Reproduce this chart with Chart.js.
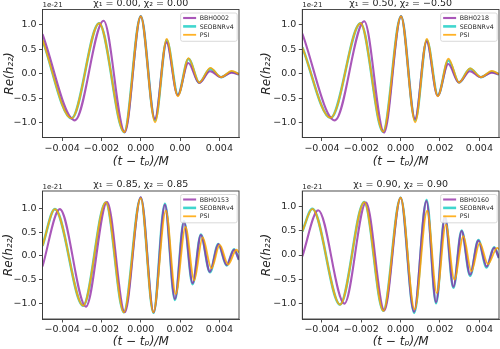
<!DOCTYPE html>
<html><head><meta charset="utf-8">
<script src="https://cdn.jsdelivr.net/npm/chart.js@4.4.1/dist/chart.umd.min.js"></script>
<style>
html,body{margin:0;padding:0;background:#fff;}
body{width:500px;height:349px;overflow:hidden;position:relative;}
canvas{position:absolute;}
</style></head><body>
<canvas id="c0" width="250" height="175" style="left:0;top:0"></canvas>
<canvas id="c1" width="250" height="175" style="left:250px;top:0"></canvas>
<canvas id="c2" width="250" height="175" style="left:0;top:175px"></canvas>
<canvas id="c3" width="250" height="175" style="left:250px;top:175px"></canvas>
<script>
// ---------- data ----------
const seriesNames = ['SEOBNRv4', 'PSI'];
const nrNames = ['BBH0002', 'BBH0218', 'BBH0153', 'BBH0160'];
const panelTitles = ['χ₁ = 0.00, χ₂ = 0.00', 'χ₁ = 0.50, χ₂ = −0.50', 'χ₁ = 0.85, χ₂ = 0.85', 'χ₁ = 0.90, χ₂ = 0.90'];
const xTicks = [-0.004, -0.002, 0.0, 0.002, 0.004];
const xTickLabels = ['−0.004', '−0.002', '0.000', '0.002', '0.004'];
const xTickLabelsFirst = ['−0.004', '−0.002', '0.000', '0.00', '0.004'];
const yTicks = [-1.0, -0.5, 0.0, 0.5, 1.0];
const yTickLabels = ['−1.0', '−0.5', '0.0', '0.5', '1.0'];
const xRange = [-0.005, 0.005];
const yRanges = [[-1.30, 1.31], [-1.30, 1.31], [-1.32, 1.36], [-1.33, 1.33]];

// panel 1: chi1 = 0.00, chi2 = 0.00  (t in M, Re(h22) in 1e-21)
const p1NrT  = [-0.005, -0.00335, -0.00189, -0.00081, 0.00000, 0.00072, 0.00131, 0.00188, 0.00242, 0.00297, 0.00353, 0.00409, 0.00462, 0.005];
const p1NrY  = [0.81, -0.95, 1.08, -1.19, 1.17, -0.92, 0.64, -0.44, 0.22, -0.19, 0.05, -0.07, 0.02, -0.01];
const p1SeoT = [-0.005, -0.00352, -0.00212, -0.00084, 0.00000, 0.00073, 0.00132, 0.00189, 0.00243, 0.00298, 0.00354, 0.00409, 0.00463, 0.005];
const p1SeoY = [0.69, -0.91, 1.03, -1.19, 1.17, -0.95, 0.68, -0.43, 0.30, -0.18, 0.10, -0.07, 0.04, -0.01];
const p1PsiT = [-0.005, -0.00352, -0.00212, -0.00084, 0.00000, 0.00073, 0.00132, 0.00189, 0.00243, 0.00298, 0.00354, 0.00409, 0.00463, 0.005];
const p1PsiY = [0.69, -0.91, 1.03, -1.19, 1.17, -0.99, 0.71, -0.46, 0.32, -0.18, 0.12, -0.07, 0.06, -0.01];

// panel 2: chi1 = 0.50, chi2 = -0.50
const p2NrT  = [-0.005, -0.00334, -0.00185, -0.00084, 0.00002, 0.00073, 0.00132, 0.00188, 0.00242, 0.00296, 0.00352, 0.00408, 0.00463, 0.005];
const p2NrY  = [0.82, -0.95, 1.07, -1.20, 1.17, -0.92, 0.66, -0.45, 0.20, -0.18, 0.05, -0.07, 0.02, -0.01];
const p2SeoT = [-0.005, -0.00356, -0.00204, -0.00089, 0.00002, 0.00074, 0.00133, 0.00189, 0.00243, 0.00297, 0.00353, 0.00408, 0.00464, 0.005];
const p2SeoY = [0.54, -0.90, 1.03, -1.18, 1.17, -0.95, 0.68, -0.44, 0.27, -0.18, 0.10, -0.07, 0.04, -0.01];
const p2PsiT = [-0.005, -0.00356, -0.00204, -0.00089, 0.00002, 0.00074, 0.00133, 0.00189, 0.00243, 0.00297, 0.00353, 0.00408, 0.00464, 0.005];
const p2PsiY = [0.54, -0.90, 1.03, -1.18, 1.17, -0.99, 0.71, -0.46, 0.31, -0.18, 0.11, -0.07, 0.06, -0.01];

// panel 3: chi1 = 0.85, chi2 = 0.85
const p3NrT  = [-0.005, -0.00412, -0.00279, -0.00171, -0.00081, 0.00000, 0.00066, 0.00123, 0.00174, 0.00220, 0.00264, 0.00306, 0.00352, 0.00395, 0.00437, 0.00475, 0.005];
const p3NrY  = [-0.22, 0.98, -1.06, 1.13, -1.18, 1.23, -1.18, 1.07, -0.90, 0.71, -0.57, 0.44, -0.33, 0.25, -0.19, 0.13, -0.08];
const p3SeoT = [-0.005, -0.00437, -0.00293, -0.00178, -0.00086, 0.00000, 0.00065, 0.00123, 0.00174, 0.00220, 0.00264, 0.00306, 0.00352, 0.00395, 0.00437, 0.00475, 0.005];
const p3SeoY = [0.21, 0.98, -1.04, 1.12, -1.18, 1.22, -1.19, 1.09, -0.92, 0.73, -0.59, 0.45, -0.34, 0.25, -0.20, 0.14, -0.08];
const p3PsiT = [-0.005, -0.00437, -0.00293, -0.00178, -0.00086, 0.00000, 0.00064, 0.00128, 0.00178, 0.00228, 0.00272, 0.00315, 0.00360, 0.00402, 0.00445, 0.00487, 0.005];
const p3PsiY = [0.21, 0.98, -1.04, 1.12, -1.18, 1.21, -1.18, 0.95, -0.80, 0.61, -0.51, 0.39, -0.26, 0.23, -0.18, 0.13, 0.07];

// panel 4: chi1 = 0.90, chi2 = 0.90
const p4NrT  = [-0.005, -0.00419, -0.00286, -0.00176, -0.00083, 0.00000, 0.00068, 0.00131, 0.00180, 0.00225, 0.00268, 0.00310, 0.00353, 0.00395, 0.00437, 0.00475, 0.005];
const p4NrY  = [-0.03, 0.93, -1.01, 1.09, -1.15, 1.19, -1.18, 1.12, -0.98, 0.79, -0.66, 0.50, -0.41, 0.30, -0.24, 0.15, -0.06];
const p4SeoT = [-0.005, -0.00449, -0.00308, -0.00185, -0.00088, 0.00000, 0.00069, 0.00132, 0.00180, 0.00225, 0.00268, 0.00310, 0.00353, 0.00395, 0.00437, 0.00475, 0.005];
const p4SeoY = [0.49, 0.96, -1.03, 1.10, -1.16, 1.19, -1.20, 1.14, -1.00, 0.81, -0.68, 0.51, -0.43, 0.31, -0.26, 0.16, -0.06];
const p4PsiT = [-0.005, -0.00449, -0.00308, -0.00185, -0.00088, 0.00000, 0.00071, 0.00135, 0.00184, 0.00230, 0.00273, 0.00319, 0.00360, 0.00402, 0.00444, 0.00491, 0.005];
const p4PsiY = [0.49, 0.96, -1.03, 1.10, -1.16, 1.19, -1.13, 0.92, -0.79, 0.63, -0.51, 0.39, -0.34, 0.25, -0.19, 0.15, 0.12];

// ---------- styling ----------
const COL_NR = 'rgba(145,40,165,0.78)';
const COL_SEO = 'rgb(64,214,206)';
const COL_PSI = 'rgba(255,165,0,0.85)';
const TXT = '#262626';
const FRAME = '#3a3a3a';

const panels = [
  {id:'c0', box:{l:42.5, r:239, t:9.5, b:137.5}, yTitleOff:33, xTitleOff:24.5, titleOff:5.5, offOff:4.5,
   nr:[p1NrT,p1NrY], seo:[p1SeoT,p1SeoY], psi:[p1PsiT,p1PsiY], xl:xTickLabelsFirst},
  {id:'c1', box:{l:52.3, r:249, t:9.5, b:137.5}, yTitleOff:35, xTitleOff:24.5, titleOff:5.5, offOff:4.5,
   nr:[p2NrT,p2NrY], seo:[p2SeoT,p2SeoY], psi:[p2PsiT,p2PsiY], xl:xTickLabels},
  {id:'c2', box:{l:42.5, r:239, t:16, b:144}, yTitleOff:33.5, xTitleOff:23, titleOff:6, offOff:3.5,
   nr:[p3NrT,p3NrY], seo:[p3SeoT,p3SeoY], psi:[p3PsiT,p3PsiY], xl:xTickLabels},
  {id:'c3', box:{l:52.3, r:249, t:16, b:144}, yTitleOff:35, xTitleOff:23, titleOff:6, offOff:3.5,
   nr:[p4NrT,p4NrY], seo:[p4SeoT,p4SeoY], psi:[p4PsiT,p4PsiY], xl:xTickLabels},
];

function pts(pair){ return pair[0].map((t,i)=>({x:t, y:pair[1][i]})); }

const overlay = {
  id:'overlay',
  afterDatasetsDraw(chart, args, o){
    const ctx = chart.ctx, ca = chart.chartArea;
    ctx.save();
    ctx.strokeStyle = FRAME; ctx.lineWidth = 0.9;
    ctx.strokeRect(ca.left, ca.top, ca.right-ca.left, ca.bottom-ca.top);
    ctx.font = '6.3px "DejaVu Sans"';
    const ds = chart.data.datasets;
    let maxW = 0; ds.forEach(d=>{ maxW = Math.max(maxW, ctx.measureText(d.label).width); });
    const w = 19 + maxW + 3.5, h = 28.3;
    const bx = ca.right - 1.8 - w, by = ca.top + 3.5;
    ctx.beginPath();
    if (ctx.roundRect) ctx.roundRect(bx, by, w, h, 2); else ctx.rect(bx, by, w, h);
    ctx.fillStyle = 'rgba(255,255,255,0.85)'; ctx.fill();
    ctx.strokeStyle = '#d0d0d0'; ctx.lineWidth = 0.8; ctx.stroke();
    ds.forEach((d,i)=>{
      const yy = by + 5 + i*8.4;
      ctx.beginPath(); ctx.moveTo(bx+2.5, yy); ctx.lineTo(bx+15.5, yy);
      ctx.strokeStyle = d.borderColor; ctx.lineWidth = d.borderWidth; ctx.stroke();
      ctx.fillStyle = TXT; ctx.textAlign = 'left'; ctx.textBaseline = 'middle';
      ctx.fillText(d.label, bx+19, yy+0.5);
    });
    ctx.restore();
  },
  afterDraw(chart, args, o){
    const ctx = chart.ctx, ca = chart.chartArea;
    const cx = (ca.left+ca.right)/2, cy = (ca.top+ca.bottom)/2;
    ctx.save();
    ctx.fillStyle = TXT;
    ctx.font = '9.5px "DejaVu Sans"'; ctx.textAlign='center'; ctx.textBaseline='middle';
    ctx.fillText(o.title, cx, ca.top - o.titleOff);
    ctx.font = '7px "DejaVu Sans"'; ctx.textAlign='left';
    ctx.fillText('1e-21', ca.left, ca.top - o.offOff);
    ctx.font = 'italic 12px "DejaVu Sans"'; ctx.textAlign='center';
    ctx.fillText('(t − tₚ)/M', cx, ca.bottom + o.xTitleOff);
    ctx.translate(ca.left - o.yTitleOff, cy);
    ctx.rotate(-Math.PI/2);
    ctx.fillText('Re(h₂₂)', 0, 0);
    ctx.restore();
  }
};

panels.forEach((p, k)=>{
  const cv = document.getElementById(p.id);
  const W = cv.width, H = cv.height;
  new Chart(cv, {
    type:'line',
    data:{ datasets:[
      {label:nrNames[k], data:pts(p.nr), borderColor:COL_NR, borderWidth:2.1, order:1},
      {label:seriesNames[0], data:pts(p.seo), borderColor:COL_SEO, borderWidth:2.6, order:2},
      {label:seriesNames[1], data:pts(p.psi), borderColor:COL_PSI, borderWidth:1.8, order:0},
    ]},
    options:{
      responsive:false, animation:false, devicePixelRatio:1, events:[],
      elements:{ point:{radius:0}, line:{cubicInterpolationMode:'monotone', fill:false} },
      layout:{ padding:{ left:0, top:p.box.t, right:W - p.box.r, bottom:0 } },
      plugins:{ legend:{display:false}, tooltip:{enabled:false}, title:{display:false},
        overlay:{ title:panelTitles[k], yTitleOff:p.yTitleOff, xTitleOff:p.xTitleOff, titleOff:p.titleOff, offOff:p.offOff } },
      scales:{
        x:{ type:'linear', min:xRange[0], max:xRange[1],
          afterBuildTicks:(s)=>{ s.ticks = xTicks.map(v=>({value:v})); },
          afterFit:(s)=>{ s.height = H - p.box.b; },
          ticks:{ callback:(v,i)=>p.xl[i], font:{family:'DejaVu Sans', size:9.5}, color:TXT, padding:1.5, maxRotation:0, autoSkip:false },
          grid:{ display:true, drawOnChartArea:false, drawTicks:true, tickLength:3.5, color:FRAME, lineWidth:0.9 },
          border:{ display:true, color:FRAME, width:0.9 } },
        y:{ type:'linear', min:yRanges[k][0], max:yRanges[k][1],
          afterBuildTicks:(s)=>{ s.ticks = yTicks.map(v=>({value:v})); },
          afterFit:(s)=>{ s.width = p.box.l; },
          ticks:{ callback:(v,i)=>yTickLabels[i], font:{family:'DejaVu Sans', size:9.5}, color:TXT, padding:2.5, autoSkip:false },
          grid:{ display:true, drawOnChartArea:false, drawTicks:true, tickLength:3.5, color:FRAME, lineWidth:0.9 },
          border:{ display:true, color:FRAME, width:0.9 } }
      }
    },
    plugins:[overlay]
  });
});
</script>
</body></html>
